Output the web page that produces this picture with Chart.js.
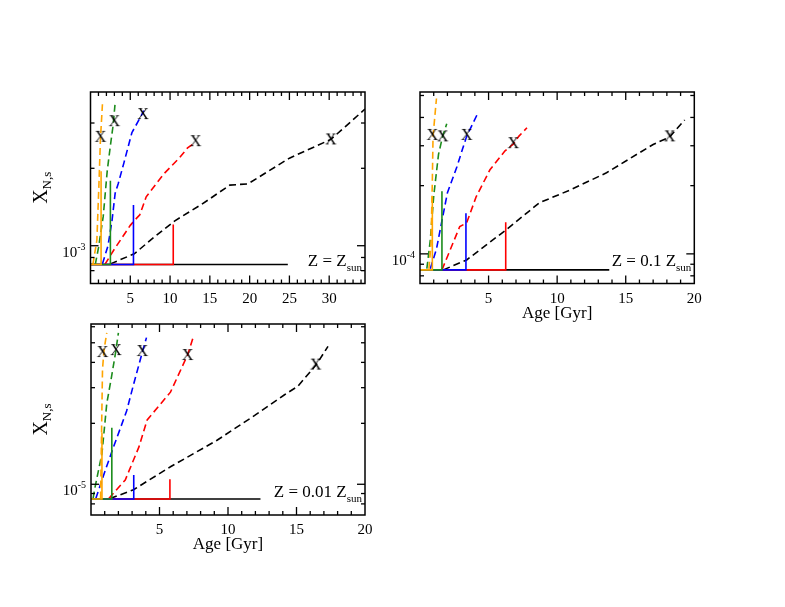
<!DOCTYPE html>
<html lang="en">
<head>
    <meta charset="UTF-8">
    <title>X_N,s versus age for three metallicities</title>
    <script src="https://cdn.jsdelivr.net/npm/chart.js"></script>
    <style>
        body {
            margin: 0;
            background: #fff;
        }

        #wrap {
            position: relative;
            width: 785px;
            height: 607px;
        }

        #wrap canvas {
            position: absolute;
            left: 0;
            top: 0;
        }
    </style>
</head>
<body>
    <div id="wrap">
        <canvas id="c1" width="785" height="607"></canvas>
        <canvas id="c2" width="785" height="607"></canvas>
        <canvas id="c3" width="785" height="607"></canvas>
    </div>

    <script>
        // ---- panel 1: Z = Zsun  (age in Gyr, X_N,s) ----
        const p1OrangeDash = [[0.3, 8.45e-4], [0.8, 1.05e-3], [1.05, 1.7e-3], [1.25, 2.6e-3], [1.5, 3.55e-3]];
        const p1GreenDash = [[0.6, 8.45e-4], [1.0, 9.8e-4], [1.6, 1.3e-3], [2.1, 1.95e-3], [2.5, 2.45e-3], [2.85, 2.95e-3], [3.1, 3.6e-3]];
        const p1BlueDash = [[1.5, 8.5e-4], [2.2, 1.0e-3], [2.7, 1.25e-3], [3.1, 1.6e-3], [3.5, 1.75e-3], [4.2, 2.1e-3], [5.2, 2.75e-3], [6.0, 3.05e-3], [6.7, 3.35e-3]];
        const p1RedDash = [[1.8, 8.45e-4], [3.0, 9.7e-4], [5.0, 1.2e-3], [5.8, 1.28e-3], [6.2, 1.32e-3], [7.0, 1.55e-3], [9.2, 1.9e-3], [11.2, 2.2e-3], [12.2, 2.4e-3], [13.0, 2.5e-3]];
        const p1BlackDash = [[2.5, 8.5e-4], [5.5, 9.3e-4], [8.0, 1.08e-3], [10.6, 1.25e-3], [14.0, 1.45e-3], [17.5, 1.72e-3], [19.8, 1.74e-3], [25.0, 2.19e-3], [30.2, 2.59e-3], [32.0, 2.9e-3], [34.5, 3.4e-3]];
        const p1Marks = [[1.25, 2.65e-3], [3.0, 3.05e-3], [6.6, 3.25e-3], [13.2, 2.55e-3], [30.2, 2.59e-3]];
        const p1Base = 8.45e-4;
        const p1SolidEnd = [1.33, 2.5, 5.4, 10.4, 24.8];
        const p1SolidTop = [1.95e-3, 1.79e-3, 1.44e-3, 1.21e-3, 8.45e-4];

        // ---- panel 2: Z = 0.1 Zsun ----
        const p2OrangeDash = [[0.65, 8.6e-5], [0.8, 1.1e-4], [0.9, 2.1e-4], [0.95, 3.3e-4], [1.2, 4.85e-4]];
        const p2GreenDash = [[0.5, 8.6e-5], [0.75, 1.15e-4], [1.0, 1.8e-4], [1.35, 2.75e-4], [1.65, 3.3e-4], [1.95, 3.75e-4]];
        const p2BlueDash = [[0.75, 8.6e-5], [1.2, 1.05e-4], [1.6, 1.4e-4], [2.0, 1.86e-4], [2.7, 2.43e-4], [3.1, 2.9e-4], [3.4, 3.3e-4], [4.15, 4.1e-4]];
        const p2RedDash = [[1.6, 8.5e-5], [2.9, 1.32e-4], [3.4, 1.37e-4], [4.1, 1.79e-4], [5.1, 2.35e-4], [6.2, 2.85e-4], [6.8, 3.05e-4], [7.2, 3.3e-4], [7.8, 3.6e-4]];
        const p2BlackDash = [[1.7, 8.5e-5], [3.4, 9.4e-5], [6.3, 1.28e-4], [8.7, 1.68e-4], [11.0, 1.92e-4], [13.6, 2.28e-4], [17.0, 3.04e-4], [18.2, 3.28e-4], [19.3, 3.9e-4]];
        const p2Marks = [[0.9, 3.35e-4], [1.65, 3.3e-4], [3.4, 3.35e-4], [6.8, 3.08e-4], [18.2, 3.3e-4]];
        const p2Base = 8.5e-5;
        const p2SolidEnd = [0.9, 1.6, 3.35, 6.25, 13.8];
        const p2SolidTop = [1.79e-4, 1.89e-4, 1.51e-4, 1.38e-4, 8.5e-5];

        // ---- panel 3: Z = 0.01 Zsun ----
        const p3OrangeDash = [[0.7, 8.5e-6], [0.78, 2.0e-5], [0.84, 3.7e-5], [0.95, 4.6e-5], [1.15, 5.6e-5]];
        const p3GreenDash = [[0.15, 8.5e-6], [0.3, 9.7e-6], [0.8, 1.42e-5], [1.15, 2.5e-5], [1.5, 3.4e-5], [1.8, 4.5e-5], [2.0, 5.6e-5]];
        const p3BlueDash = [[0.35, 8.5e-6], [1.0, 1.15e-5], [1.6, 1.5e-5], [2.6, 2.3e-5], [3.1, 3.1e-5], [3.75, 4.5e-5], [4.05, 5.3e-5]];
        const p3RedDash = [[1.3, 8.5e-6], [2.5, 1.05e-5], [3.5, 1.53e-5], [4.1, 2.08e-5], [5.8, 2.85e-5], [6.8, 4.0e-5], [7.05, 4.35e-5], [7.45, 5.3e-5]];
        const p3BlackDash = [[1.4, 8.5e-6], [3.1, 9.4e-6], [5.8, 1.22e-5], [9.2, 1.65e-5], [12.0, 2.2e-5], [14.1, 2.76e-5], [15.1, 3.05e-5], [16.45, 3.9e-5], [17.3, 4.8e-5]];
        const p3Marks = [[0.84, 4.5e-5], [1.82, 4.6e-5], [3.75, 4.55e-5], [7.05, 4.35e-5], [16.4, 3.9e-5]];
        const p3Base = 8.46e-6;
        const p3SolidEnd = [0.8, 1.52, 3.12, 5.76, 12.37];
        const p3SolidTop = [1.8e-5, 1.9e-5, 1.11e-5, 1.06e-5, 8.46e-6];

        // orange, green, blue, red, black
        const colours = ['#ffa500', '#1c8c1c', '#0000ff', '#ff0000', '#000000'];
        const serif = '"Liberation Serif", "DejaVu Serif", serif';

        // "X" glyph used as the point style of the markers
        const xGlyph = document.createElement('canvas');
        xGlyph.width = 14;
        xGlyph.height = 16;
        (function () {
            const g = xGlyph.getContext('2d');
            g.font = '16px ' + serif;
            g.fillStyle = '#000';
            g.textAlign = 'center';
            g.textBaseline = 'middle';
            g.fillText('X', 7, 8.5);
        })();

        function toXY(pts) {
            return pts.map(p => ({ x: p[0], y: p[1] }));
        }

        function solidTrack(base, end, top) {
            return [{ x: 0, y: base }, { x: end, y: base }, { x: end, y: top }];
        }

        function line(ctx, x1, y1, x2, y2) {
            ctx.beginPath();
            ctx.moveTo(x1, y1);
            ctx.lineTo(x2, y2);
            ctx.stroke();
        }

        // frame, inward ticks on all sides and the texts, xmgrace style
        const framePlugin = {
            id: 'frame',
            afterDraw(chart, args, o) {
                const { ctx, chartArea: a } = chart;
                const xs = chart.scales.x;
                const ys = chart.scales.y;
                ctx.save();
                ctx.strokeStyle = '#000';
                ctx.fillStyle = '#000';
                ctx.lineWidth = 1.3;

                for (let v = 1; v < xs.max; v++) {
                    const px = xs.getPixelForValue(v);
                    const len = v % 5 === 0 ? 8 : 4;
                    line(ctx, px, a.bottom, px, a.bottom - len);
                    line(ctx, px, a.top, px, a.top + len);
                }

                const e0 = Math.floor(Math.log10(ys.min));
                const e1 = Math.ceil(Math.log10(ys.max));
                const majors = [];
                for (let e = e0; e <= e1; e++) {
                    for (let m = 1; m <= 9; m++) {
                        const v = m * Math.pow(10, e);
                        if (v < ys.min || v > ys.max) continue;
                        const py = ys.getPixelForValue(v);
                        const len = m === 1 ? 8 : 4;
                        line(ctx, a.left, py, a.left + len, py);
                        line(ctx, a.right, py, a.right - len, py);
                        if (m === 1) majors.push([e, py]);
                    }
                }

                ctx.lineWidth = 1.5;
                ctx.strokeRect(a.left, a.top, a.right - a.left, a.bottom - a.top);

                // x tick labels
                ctx.font = '15px ' + serif;
                ctx.textAlign = 'center';
                ctx.textBaseline = 'alphabetic';
                for (let v = 5; v <= xs.max + 1e-6; v += 5) {
                    ctx.fillText(String(v), xs.getPixelForValue(v), a.bottom + 19);
                }

                // y tick labels: 10 with a raised exponent
                majors.forEach(([e, py]) => {
                    ctx.font = '10px ' + serif;
                    const expo = String(e);
                    const w = ctx.measureText(expo).width;
                    ctx.textAlign = 'right';
                    ctx.fillText(expo, a.left - 5, py + 4);
                    ctx.font = '15px ' + serif;
                    ctx.fillText('10', a.left - 5 - w, py + 11);
                });

                // metallicity note
                ctx.font = '11px ' + serif;
                ctx.textAlign = 'right';
                const subW = ctx.measureText('sun').width;
                ctx.fillText('sun', a.right - 3, a.bottom - 13);
                ctx.font = '17px ' + serif;
                ctx.fillText(o.note, a.right - 3 - subW, a.bottom - 18);

                if (o.xTitle) {
                    ctx.textAlign = 'center';
                    ctx.font = '17px ' + serif;
                    ctx.fillText('Age [Gyr]', (a.left + a.right) / 2, a.bottom + 34);
                }

                if (o.yTitle) {
                    ctx.font = '20px ' + serif;
                    const wX = ctx.measureText('X').width;
                    ctx.font = '13px ' + serif;
                    const wS = ctx.measureText('N,s').width;
                    ctx.translate(47, (a.top + a.bottom) / 2);
                    ctx.rotate(-Math.PI / 2);
                    ctx.textAlign = 'left';
                    const start = -(wX + wS) / 2;
                    ctx.font = '20px ' + serif;
                    ctx.fillText('X', start, 0);
                    ctx.font = '13px ' + serif;
                    ctx.fillText('N,s', start + wX, 4);
                }
                ctx.restore();
            }
        };

        function makePanel(id, pad, xMax, yMin, yMax, dashes, marks, base, ends, tops, note, xTitle, yTitle) {
            const datasets = [{
                data: toXY(marks),
                showLine: false,
                pointStyle: xGlyph,
                pointRadius: 6,
                borderColor: '#000'
            }];
            for (let i = 0; i < 5; i++) {
                datasets.push({
                    data: solidTrack(base, ends[i], tops[i]),
                    borderColor: colours[i],
                    borderWidth: 1.6,
                    pointRadius: 0,
                    tension: 0
                });
                datasets.push({
                    data: toXY(dashes[i]),
                    borderColor: colours[i],
                    borderWidth: 1.6,
                    borderDash: [7, 4],
                    pointRadius: 0,
                    tension: 0
                });
            }
            return new Chart(document.getElementById(id), {
                type: 'line',
                data: { datasets: datasets },
                plugins: [framePlugin],
                options: {
                    responsive: false,
                    animation: false,
                    events: [],
                    layout: { padding: pad },
                    plugins: {
                        legend: { display: false },
                        tooltip: { enabled: false },
                        frame: { note: note, xTitle: xTitle, yTitle: yTitle }
                    },
                    scales: {
                        x: { type: 'linear', min: 0, max: xMax, bounds: 'data', display: false },
                        y: { type: 'logarithmic', min: yMin, max: yMax, bounds: 'data', display: false }
                    }
                }
            });
        }

        makePanel('c1', { left: 90.5, top: 92, right: 420, bottom: 323.5 }, 34.5, 7.13e-4, 3.96e-3,
            [p1OrangeDash, p1GreenDash, p1BlueDash, p1RedDash, p1BlackDash], p1Marks,
            p1Base, p1SolidEnd, p1SolidTop, 'Z = Z', false, true);

        makePanel('c2', { left: 420, top: 92, right: 90.7, bottom: 323.5 }, 20, 7.4e-5, 5.18e-4,
            [p2OrangeDash, p2GreenDash, p2BlueDash, p2RedDash, p2BlackDash], p2Marks,
            p2Base, p2SolidEnd, p2SolidTop, 'Z = 0.1 Z', true, false);

        makePanel('c3', { left: 91, top: 324, right: 420, bottom: 92 }, 20, 7.05e-6, 6.19e-5,
            [p3OrangeDash, p3GreenDash, p3BlueDash, p3RedDash, p3BlackDash], p3Marks,
            p3Base, p3SolidEnd, p3SolidTop, 'Z = 0.01 Z', true, true);
    </script>
</body>
</html>
